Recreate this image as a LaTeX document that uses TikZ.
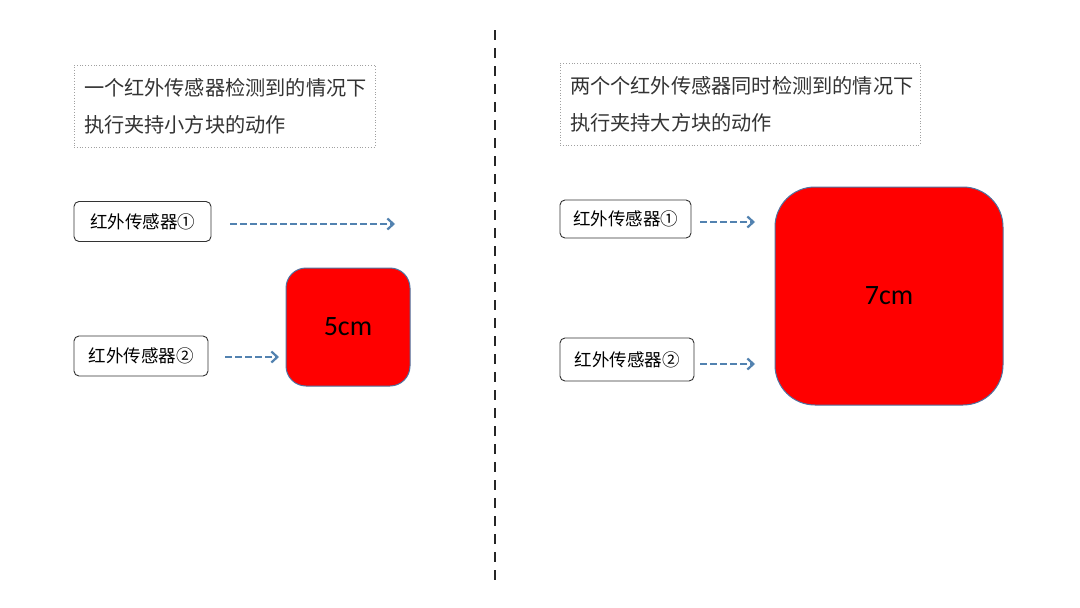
\documentclass[tikz,border=0pt]{standalone}
\usepackage{fontspec}
\newfontfamily\cjk{Noto Sans CJK SC}
\newfontfamily\lat{Carlito}
\usetikzlibrary{arrows.meta}
\definecolor{arrowblue}{HTML}{5282B0}
\definecolor{edgeblue}{HTML}{4F72A0}
\definecolor{boxgray}{HTML}{A0A0A0}
\tikzset{
  header/.style={draw=boxgray, dotted, line width=0.8pt, minimum height=82pt, inner xsep=10pt, align=left, anchor=center, font=\cjk\fontsize{20.2}{37}\selectfont, text=black!80},
  sensorbox/.style={draw=black!80, line width=0.9pt, rounded corners=5pt, minimum height=40pt, inner xsep=12pt, font=\cjk\fontsize{17.5}{20}\selectfont},
  flowarrow/.style={draw=arrowblue, line width=2.4pt, dash pattern=on 7pt off 3pt, -{Straight Barb[length=6pt,width=11pt,line width=2.2pt]}},
  block/.style={fill=red, draw=edgeblue, line width=1pt, font=\lat\fontsize{28}{30}\selectfont}
}
\begin{document}
\begin{tikzpicture}[x=1pt,y=-1pt]
\useasboundingbox (0,0) rectangle (1080,608);
\fill[white] (0,0) rectangle (1080,608);
% divider
\coordinate (divtop) at (495,30);
\coordinate (divbot) at (495,585);
\draw[black!85, line width=2.5pt, dash pattern=on 10pt off 8pt] (divtop) -- (divbot);
% left side
\node[header, minimum width=301pt, text width=281pt] (lhead) at (224.5,106) {一个红外传感器检测到的情况下\\执行夹持小方块的动作};
\node[sensorbox, minimum width=137pt] (ls1) at (142.5,221.5) {红外传感器①};
\node[sensorbox, minimum width=134pt] (ls2) at (141,356) {红外传感器②};
\node[block, rounded corners=20pt, minimum width=124pt, minimum height=118pt] (lsq) at (348,327) {5cm};
\coordinate (la1s) at (230,224);
\coordinate (la1e) at (395,224);
\coordinate (la2s) at (225,357);
\coordinate (la2e) at (279,357);
\draw[flowarrow] (la1s) -- (la1e);
\draw[flowarrow] (la2s) -- (la2e);
% right side
\node[header, minimum width=360pt, text width=340pt] (rhead) at (740,104) {两个个红外传感器同时检测到的情况下\\执行夹持大方块的动作};
\node[sensorbox, minimum width=131pt, minimum height=38pt] (rs1) at (625.5,219) {红外传感器①};
\node[sensorbox, minimum width=134pt, minimum height=43pt] (rs2) at (627,359.5) {红外传感器②};
\node[block, rounded corners=40pt, minimum width=228pt, minimum height=218pt] (rsq) at (889,296) {7cm};
\coordinate (ra1s) at (700,222);
\coordinate (ra1e) at (755,222);
\coordinate (ra2s) at (700,364);
\coordinate (ra2e) at (755,364);
\draw[flowarrow] (ra1s) -- (ra1e);
\draw[flowarrow] (ra2s) -- (ra2e);
\end{tikzpicture}
\end{document}
